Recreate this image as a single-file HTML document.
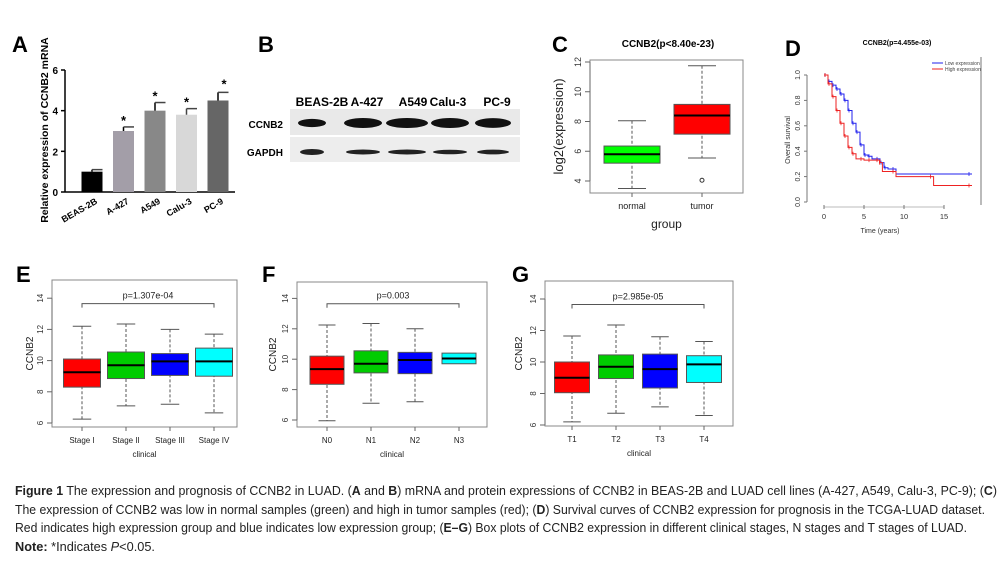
<!DOCTYPE html>
<html><head><meta charset="utf-8"><style>
html,body{margin:0;padding:0;background:#fff;}
svg{display:block;font-family:"Liberation Sans",sans-serif;}
</style></head><body>
<svg id="fig" width="1006" height="561" viewBox="0 0 1006 561">
<g font-weight="bold" font-size="22" fill="#000">
<text x="12" y="52">A</text>
<text x="258" y="52">B</text>
<text x="552" y="52">C</text>
<text x="785" y="56">D</text>
<text x="16" y="282">E</text>
<text x="262" y="282">F</text>
<text x="512" y="282">G</text>
</g>
<g id="gA"></g>
<g id="gB"></g>
<g id="gC"></g>
<g id="gD"></g>
<g id="gE"></g>
<g id="gF"></g>
<g id="gG"></g>
<g font-size="12.5" fill="#222">
<text x="15" y="495" textLength="982" lengthAdjust="spacingAndGlyphs"><tspan font-weight="bold">Figure 1</tspan> The expression and prognosis of CCNB2 in LUAD. (<tspan font-weight="bold">A</tspan> and <tspan font-weight="bold">B</tspan>) mRNA and protein expressions of CCNB2 in BEAS-2B and LUAD cell lines (A-427, A549, Calu-3, PC-9); (<tspan font-weight="bold">C</tspan>)</text>
<text x="15" y="514" textLength="970" lengthAdjust="spacingAndGlyphs">The expression of CCNB2 was low in normal samples (green) and high in tumor samples (red); (<tspan font-weight="bold">D</tspan>) Survival curves of CCNB2 expression for prognosis in the TCGA-LUAD dataset.</text>
<text x="15" y="532" textLength="952" lengthAdjust="spacingAndGlyphs">Red indicates high expression group and blue indicates low expression group; (<tspan font-weight="bold">E–G</tspan>) Box plots of CCNB2 expression in different clinical stages, N stages and T stages of LUAD.</text>
<text x="15" y="551" textLength="140" lengthAdjust="spacingAndGlyphs"><tspan font-weight="bold">Note:</tspan> *Indicates <tspan font-style="italic">P</tspan>&lt;0.05.</text>
</g>
</svg>
<script>
const aCats=["BEAS-2B","A-427","A549","Calu-3","PC-9"];
const aVals=[1.0,3.0,4.0,3.8,4.5];
const aErr=[0.1,0.2,0.4,0.3,0.4];
const aTicks=[0,2,4,6];
const bLanes=["BEAS-2B","A-427","A549","Calu-3","PC-9"];
const bCcnb2=[0.7,1.0,1.0,1.0,0.95];
const bGapdh=[0.8,0.6,0.6,0.5,0.55];
const cCats=["normal","tumor"];
const cLow=[3.5,5.55];const cQ1=[5.2,7.15];const cMed=[5.8,8.4];const cQ3=[6.35,9.15];const cHigh=[8.05,11.75];
const cOut=[null,4.05];
const cTicks=[4,6,8,10,12];
const dBlueT=[0,0.5,1,1.5,2,2.5,3,3.5,4,4.5,5,5.5,6,7,7.5,8,9,18.5];
const dBlueS=[1,0.95,0.92,0.89,0.85,0.8,0.72,0.62,0.55,0.45,0.37,0.36,0.34,0.31,0.27,0.26,0.22,0.22];
const dRedT=[0,0.5,1,1.5,2,2.5,3,3.5,4,5,6,7,7.3,9,13.7,18.5];
const dRedS=[1,0.93,0.83,0.72,0.62,0.52,0.43,0.38,0.34,0.33,0.33,0.31,0.24,0.2,0.13,0.13];
const dXTicks=[0,5,10,15];const dYTicks=[0,0.2,0.4,0.6,0.8,1.0];
const boxTicks=[6,8,10,12,14];
const eCats=["Stage I","Stage II","Stage III","Stage IV"];
const eLow=[6.25,7.1,7.2,6.65];const eQ1=[8.3,8.85,9.05,9.0];const eMed=[9.25,9.7,9.95,9.95];const eQ3=[10.1,10.55,10.45,10.8];const eHigh=[12.2,12.35,12.0,11.7];
const fCats=["N0","N1","N2","N3"];
const fLow=[5.95,7.1,7.2,null];const fQ1=[8.35,9.1,9.05,9.7];const fMed=[9.35,9.7,9.95,10.05];const fQ3=[10.2,10.55,10.45,10.4];const fHigh=[12.25,12.35,12.0,null];
const gCats=["T1","T2","T3","T4"];
const gLow=[6.2,6.75,7.15,6.6];const gQ1=[8.05,8.95,8.35,8.7];const gMed=[9.0,9.7,9.55,9.85];const gQ3=[10.0,10.45,10.5,10.4];const gHigh=[11.65,12.35,11.6,11.3];
const pLabels=["p=1.307e-04","p=0.003","p=2.985e-05"];
const boxColors=["#ff0000","#00cc00","#0000ff","#00ffff"];

const NS="http://www.w3.org/2000/svg";
function mk(parent,tag,attrs,text){const e=document.createElementNS(NS,tag);for(const k in attrs)e.setAttribute(k,attrs[k]);if(text!==undefined)e.textContent=text;parent.appendChild(e);return e;}

(function(){
const g=document.getElementById("gA");
const y=v=>192-v*(122/6);const x0=92,dx=31.5,bw=21;
const cols=["#000","#a39ea8","#888","#d8d8d8","#666"];
mk(g,"line",{x1:65,y1:y(6),x2:65,y2:y(0),stroke:"#000","stroke-width":1.5});
mk(g,"line",{x1:65,y1:y(0),x2:235,y2:y(0),stroke:"#000","stroke-width":1.5});
aTicks.forEach(t=>{mk(g,"line",{x1:61,y1:y(t),x2:65,y2:y(t),stroke:"#000","stroke-width":1.5});
const tl=mk(g,"text",{x:58,y:y(t)+4,"font-size":10,"font-weight":"bold","text-anchor":"end"},t);

});
aCats.forEach((c,i)=>{const cx=x0+i*dx;
const r=mk(g,"rect",{x:cx-bw/2,y:y(aVals[i]),width:bw,height:y(0)-y(aVals[i]),fill:cols[i]});


mk(g,"line",{x1:cx,y1:y(aVals[i]),x2:cx,y2:y(aVals[i]+aErr[i]),stroke:cols[i]==="#d8d8d8"?"#444":"#000","stroke-width":1.5});
mk(g,"line",{x1:cx,y1:y(aVals[i]+aErr[i]),x2:cx+bw/2,y2:y(aVals[i]+aErr[i]),stroke:"#444","stroke-width":1.5});
if(i>0){const s=mk(g,"text",{x:cx+(i==4?6:0),y:y(aVals[i]+aErr[i])+(i==4?-4:-2),"font-size":13,"font-weight":"bold","text-anchor":"middle"},"*");

}
const tl=mk(g,"text",{x:cx+6,y:203,"font-size":9,"font-weight":"bold","text-anchor":"end",transform:`rotate(-30 ${cx+6} 203)`},c);

});
const yl=mk(g,"text",{x:0,y:0,"font-size":10.5,"font-weight":"bold","text-anchor":"middle",transform:"translate(48,130) rotate(-90)"},"Relative expression of CCNB2 mRNA");


})();

(function(){
const g=document.getElementById("gB");
const hx=[322,367,413,448,497],cx=[312,363,407,450,493],bw=[28,38,42,38,36];
bLanes.forEach((l,i)=>{const t=mk(g,"text",{x:hx[i],y:106,"font-size":12,"font-weight":"bold","text-anchor":"middle"},l);

});
mk(g,"rect",{x:290,y:109,width:230,height:26,fill:"#e9e9e9"});
mk(g,"rect",{x:290,y:137,width:230,height:25,fill:"#ededed"});
const l1=mk(g,"text",{x:283,y:128,"font-size":10,"font-weight":"bold","text-anchor":"end"},"CCNB2");


const l2=mk(g,"text",{x:283,y:156,"font-size":10,"font-weight":"bold","text-anchor":"end"},"GAPDH");


cx.forEach((c,i)=>{
const b1=mk(g,"ellipse",{cx:c,cy:123,rx:bw[i]/2,ry:2+3*bCcnb2[i],fill:"#111"});


const b2=mk(g,"ellipse",{cx:c,cy:152,rx:bw[i]/2-2,ry:1+2.5*bGapdh[i],fill:"#222"});

});
})();

function boxplot(g,o){
const y=v=>o.y0-(v-o.t0)*o.k;
mk(g,"rect",{x:o.fx1,y:o.fy1,width:o.fx2-o.fx1,height:o.fy2-o.fy1,fill:"none",stroke:"#888","stroke-width":1});
o.ticks.forEach(t=>{mk(g,"line",{x1:o.fx1-5,y1:y(t),x2:o.fx1,y2:y(t),stroke:"#666"});
const tl=mk(g,"text",{x:0,y:0,"font-size":o.fs,"fill":"#333","text-anchor":"middle",transform:`translate(${o.fx1-9},${y(t)}) rotate(-90)`},t);

});
mk(g,"line",{x1:o.fx1,y1:y(o.ticks[0]),x2:o.fx1,y2:y(o.ticks[o.ticks.length-1]),stroke:"#666"});
o.cats.forEach((c,i)=>{const cx=o.cx0+i*o.dx,hw=o.bw/2;
if(o.low[i]!=null){
mk(g,"line",{x1:cx,y1:y(o.high[i]),x2:cx,y2:y(o.low[i]),stroke:"#555","stroke-dasharray":"3,2"});
mk(g,"line",{x1:cx-hw/2,y1:y(o.high[i]),x2:cx+hw/2,y2:y(o.high[i]),stroke:"#555"});
mk(g,"line",{x1:cx-hw/2,y1:y(o.low[i]),x2:cx+hw/2,y2:y(o.low[i]),stroke:"#555"});}
const r=mk(g,"rect",{x:cx-hw,y:y(o.q3[i]),width:o.bw,height:y(o.q1[i])-y(o.q3[i]),fill:o.colors[i],stroke:"#555"});


mk(g,"line",{x1:cx-hw,y1:y(o.med[i]),x2:cx+hw,y2:y(o.med[i]),stroke:"#000","stroke-width":2});
if(o.out&&o.out[i]!=null)mk(g,"circle",{cx:cx,cy:y(o.out[i]),r:2,fill:"none",stroke:"#333"});
mk(g,"line",{x1:cx,y1:o.fy2,x2:cx,y2:o.fy2+4,stroke:"#666"});
const tl=mk(g,"text",{x:cx,y:o.fy2+16,"font-size":o.fs,"fill":"#222","text-anchor":"middle"},c);

});
const xt=mk(g,"text",{x:(o.fx1+o.fx2)/2,y:o.fy2+o.xtOff,"font-size":o.fs+(o.xtBig||0),"fill":"#222","text-anchor":"middle"},o.xtitle);


const yt=mk(g,"text",{x:0,y:0,"font-size":o.fs+(o.ytBig||0),"fill":"#222","text-anchor":"middle",transform:`translate(${o.ytx},${(o.fy1+o.fy2)/2}) rotate(-90)`},o.ytitle);


if(o.p){const a=o.cx0,b=o.cx0+(o.cats.length-1)*o.dx,by=y(13.65);
mk(g,"path",{d:`M${a},${by+4}V${by}H${b}V${by+4}`,fill:"none",stroke:"#555"});
const pt=mk(g,"text",{x:(a+b)/2,y:by-5,"font-size":o.fs+1,"fill":"#222","text-anchor":"middle"},o.p);

}
return y;}

(function(){const g=document.getElementById("gC");
boxplot(g,{fx1:590,fx2:743,fy1:60,fy2:193,y0:181,t0:4,k:14.875,ticks:cTicks,cats:cCats,cx0:632,dx:70,bw:56,low:cLow,q1:cQ1,med:cMed,q3:cQ3,high:cHigh,out:cOut,colors:["#00ff00","#ff0000"],fs:9,xtitle:"group",xtOff:35,xtBig:3,ytitle:"log2(expression)",ytx:563,ytBig:4});
const t=mk(g,"text",{x:668,y:47,"font-size":10,"font-weight":"bold","text-anchor":"middle"},"CCNB2(p<8.40e-23)");

})();

(function(){const g=document.getElementById("gD");
const x=v=>824+v*8,y=v=>202-v*127;
mk(g,"line",{x1:807,y1:y(0),x2:807,y2:y(1),stroke:"#777"});
mk(g,"line",{x1:981,y1:57,x2:981,y2:205,stroke:"#777"});
mk(g,"line",{x1:x(0),y1:207,x2:x(15),y2:207,stroke:"#bbb"});
dYTicks.forEach(t=>{mk(g,"line",{x1:804,y1:y(t),x2:807,y2:y(t),stroke:"#777"});
const tl=mk(g,"text",{x:0,y:0,"font-size":7,"fill":"#333","text-anchor":"middle",transform:`translate(800,${y(t)}) rotate(-90)`},t.toFixed(1));

});
dXTicks.forEach(t=>{mk(g,"line",{x1:x(t),y1:205,x2:x(t),y2:209,stroke:"#777"});
const tl=mk(g,"text",{x:x(t),y:219,"font-size":7.5,"fill":"#333","text-anchor":"middle"},t);

});
function step(T,S,col,name){let d=`M${x(T[0])},${y(S[0])}`;for(let i=1;i<T.length;i++)d+=`H${x(T[i])}V${y(S[i])}`;
const p=mk(g,"path",{d:d,fill:"none",stroke:col,"stroke-width":1});


for(let i=1;i<T.length;i++){const cx=x(T[i])-3,cy=y(S[i-1]);mk(g,"path",{d:`M${cx},${cy-2}V${cy+2}`,stroke:col,"stroke-width":0.8});}}
step(dBlueT,dBlueS,"#2222ee","low-expression-curve");
step(dRedT,dRedS,"#ee2222","high-expression-curve");
mk(g,"line",{x1:932,y1:63,x2:943,y2:63,stroke:"#2222ee"});
mk(g,"line",{x1:932,y1:69,x2:943,y2:69,stroke:"#ee2222"});
const l1=mk(g,"text",{x:945,y:65,"font-size":5,"fill":"#444"},"Low expression");


const l2=mk(g,"text",{x:945,y:71,"font-size":5,"fill":"#444"},"High expression");


const t=mk(g,"text",{x:897,y:45,"font-size":7,"font-weight":"bold","text-anchor":"middle"},"CCNB2(p=4.455e-03)");


const xt=mk(g,"text",{x:880,y:233,"font-size":7,"fill":"#333","text-anchor":"middle"},"Time (years)");


const yt=mk(g,"text",{x:0,y:0,"font-size":7,"fill":"#333","text-anchor":"middle",transform:"translate(790,140) rotate(-90)"},"Overall survival");

})();

boxplot(document.getElementById("gE"),{fx1:52,fx2:237,fy1:280,fy2:427,y0:423,t0:6,k:15.6,ticks:boxTicks,cats:eCats,cx0:82,dx:44,bw:37,low:eLow,q1:eQ1,med:eMed,q3:eQ3,high:eHigh,colors:boxColors,fs:8,xtitle:"clinical",xtOff:30,ytitle:"CCNB2",ytx:33,ytBig:2,p:pLabels[0]});
boxplot(document.getElementById("gF"),{fx1:297,fx2:487,fy1:282,fy2:427,y0:420,t0:6,k:15.2,ticks:boxTicks,cats:fCats,cx0:327,dx:44,bw:34,low:fLow,q1:fQ1,med:fMed,q3:fQ3,high:fHigh,colors:boxColors,fs:8,xtitle:"clinical",xtOff:30,ytitle:"CCNB2",ytx:276,ytBig:2,p:pLabels[1]});
boxplot(document.getElementById("gG"),{fx1:545,fx2:733,fy1:281,fy2:426,y0:425,t0:6,k:15.75,ticks:boxTicks,cats:gCats,cx0:572,dx:44,bw:35,low:gLow,q1:gQ1,med:gMed,q3:gQ3,high:gHigh,colors:boxColors,fs:8,xtitle:"clinical",xtOff:30,ytitle:"CCNB2",ytx:522,ytBig:2,p:pLabels[2]});
</script>
</body></html>
